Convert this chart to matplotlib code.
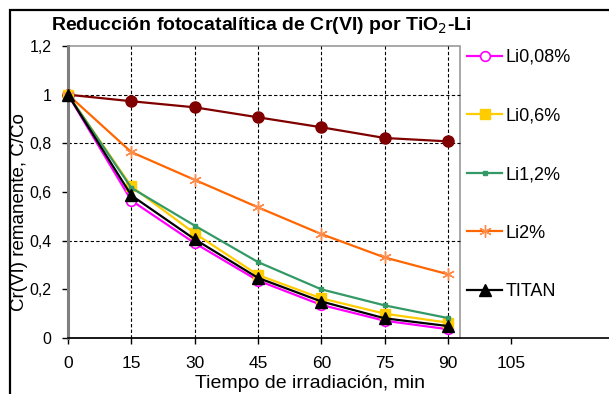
import matplotlib
matplotlib.use("Agg")
import matplotlib.pyplot as plt
from matplotlib.patches import Rectangle
from matplotlib.ticker import FuncFormatter

plt.rcParams['font.family'] = ['Liberation Sans', 'DejaVu Sans']

# Irradiation times (min)
tiempo = [0, 15, 30, 45, 60, 75, 90]

# Remaining Cr(VI) fraction C/Co for each catalyst
li_008 = [1.0, 0.565, 0.390, 0.236, 0.136, 0.071, 0.036]
li_06 = [1.0, 0.623, 0.430, 0.259, 0.163, 0.100, 0.063]
li_12 = [1.0, 0.617, 0.462, 0.312, 0.200, 0.134, 0.082]
li_2 = [1.0, 0.764, 0.650, 0.537, 0.427, 0.331, 0.262]
titan = [1.0, 0.586, 0.406, 0.247, 0.150, 0.081, 0.049]
fotolisis = [1.0, 0.973, 0.948, 0.907, 0.866, 0.822, 0.808]

x_ticks = [0, 15, 30, 45, 60, 75, 90, 105]
y_ticks = [0, 0.2, 0.4, 0.6, 0.8, 1.0, 1.2]
y_grid = [0.4, 0.8, 1.0]

W, H = 609, 394
fig = plt.figure(figsize=(W / 100, H / 100), dpi=100)

# outer chart frame
fig.patches.append(Rectangle((10 / W, -0.1), 1.2, 1 - 10 / H + 0.1,
                             transform=fig.transFigure, fill=False,
                             edgecolor='black', linewidth=1.6))

px_per_min = 380 / 90
ax = fig.add_axes([68 / W, (H - 338) / H, (W - 68) / W, (338 - 46) / H])
ax.set_xlim(0, (W - 68) / px_per_min)
ax.set_ylim(0, 1.2)
ax.patch.set_alpha(0)

plot_right = (460 - 68) / px_per_min

# plot-area border
ax.add_patch(Rectangle((0, 0), plot_right, 1.2, fill=False,
                       edgecolor='#9a9a9a', linewidth=1.2, zorder=1,
                       clip_on=False))

# dashed grid
for xv in x_ticks[1:-1]:
    ax.plot([xv, xv], [0, 1.2], color='black', linewidth=0.8,
            dashes=(3, 2), zorder=1)
for yv in y_grid:
    ax.plot([0, plot_right], [yv, yv], color='black', linewidth=0.8,
            dashes=(3, 2), zorder=1)

for s in ('top', 'right'):
    ax.spines[s].set_visible(False)
ax.spines['left'].set_color('#808080')
ax.spines['left'].set_linewidth(2.2)
ax.spines['bottom'].set_color('black')
ax.spines['bottom'].set_linewidth(1.2)

ax.set_xticks(x_ticks)
ax.set_yticks(y_ticks)
ax.yaxis.set_major_formatter(FuncFormatter(
    lambda v, p: ('%g' % round(v, 1)).replace('.', ',')))
ax.tick_params(axis='x', direction='out', length=4, width=1,
               color='black', pad=9, labelsize=12.5)
ax.tick_params(axis='y', direction='out', length=4, width=1,
               color='black', pad=8, labelsize=11.5)

lw = 1.6
ax.plot(tiempo, fotolisis, color='#800000', lw=lw, marker='o', ms=8,
        mfc='#800000', mec='#800000', zorder=3, clip_on=False)
h1, = ax.plot(tiempo, li_008, color='#FF00FF', lw=lw, marker='o', ms=7,
              mfc='white', mec='#FF00FF', mew=1.2, zorder=4, clip_on=False)
h2, = ax.plot(tiempo, li_06, color='#FFCC00', lw=lw, marker='s', ms=7,
              mfc='#FFCC00', mec='#FFCC00', zorder=4, clip_on=False)
h3, = ax.plot(tiempo, li_12, color='#339966', lw=lw, marker='s', ms=3.5,
              mfc='#339966', mec='#339966', zorder=4, clip_on=False)
h4, = ax.plot(tiempo, li_2, color='#FF6600', lw=lw, marker=(6, 2, 0), ms=9,
              mfc='#FF8C4A', mec='#FF8C4A', mew=1.0, zorder=4, clip_on=False)
h5, = ax.plot(tiempo, titan, color='black', lw=lw, marker='^', ms=8,
              mfc='black', mec='black', zorder=5, clip_on=False)

fig.legend([h1, h2, h3, h4, h5],
           ['Li0,08%', 'Li0,6%', 'Li1,2%', 'Li2%', 'TITAN'],
           loc='upper left', bbox_to_anchor=(467 / W, 1 - 49 / H),
           frameon=False, fontsize=13, handlelength=1.95,
           handletextpad=0.2, labelspacing=2.3, borderaxespad=0,
           borderpad=0)

fig.text(261 / W, 1 - 26 / H,
         'Reducción fotocatalítica de Cr(VI) por TiO$_2$-Li',
         ha='center', va='center', fontsize=14, fontweight='bold')
fig.text(20 / W, 1 - 212 / H, 'Cr(VI) remanente, C/Co', rotation=90,
         ha='center', va='center', fontsize=13.5)
fig.text(310 / W, 1 - 384 / H, 'Tiempo de irradiación, min',
         ha='center', va='center', fontsize=14)

fig.savefig('out.png', dpi=100)
